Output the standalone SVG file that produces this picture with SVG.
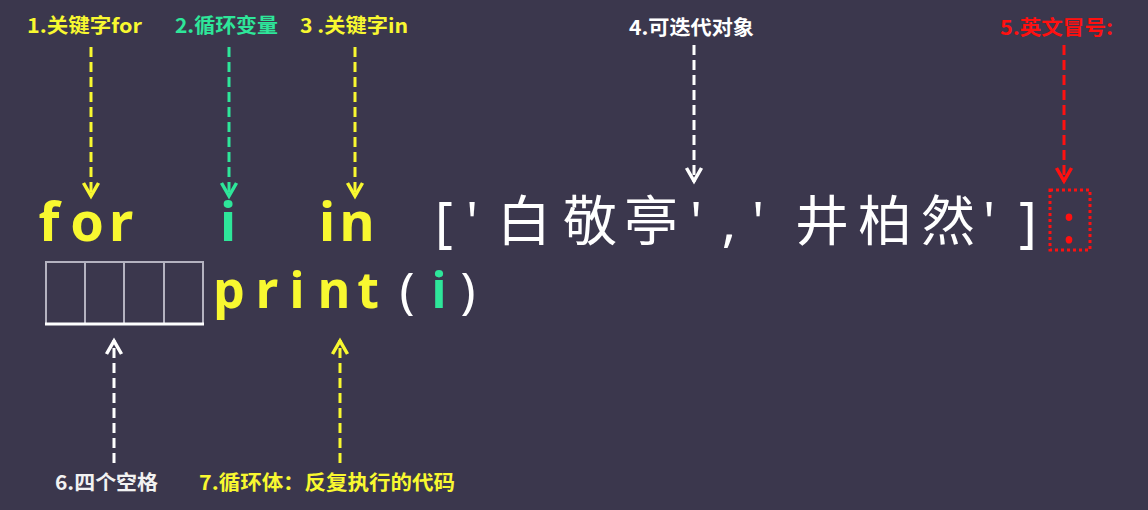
<svg xmlns="http://www.w3.org/2000/svg" width="1148" height="510" viewBox="0 0 1148 510">
<style>
.lbl{font-family:"Noto Sans CJK SC","Noto Sans",sans-serif;font-weight:700;font-size:20px}
.code{font-family:"Noto Sans","Noto Sans CJK SC",sans-serif;text-anchor:middle}
.yel{fill:#f8f830}.grn{fill:#2ee69a}.wht{fill:#ffffff}.red{fill:#ff1010}
.b{font-weight:700}
.conn line{fill:none;stroke-width:3;stroke-dasharray:10 5}
</style>
<defs>
<marker id="mY" markerUnits="userSpaceOnUse" orient="auto" refX="0" refY="0" markerWidth="20" markerHeight="20" overflow="visible"><path d="M-14,-7.5 L-1,0 L-14,7.5" fill="none" stroke="#f8f830" stroke-width="3.5"/></marker>
<marker id="mG" markerUnits="userSpaceOnUse" orient="auto" refX="0" refY="0" markerWidth="20" markerHeight="20" overflow="visible"><path d="M-14,-7.5 L-1,0 L-14,7.5" fill="none" stroke="#2ee69a" stroke-width="3.5"/></marker>
<marker id="mW" markerUnits="userSpaceOnUse" orient="auto" refX="0" refY="0" markerWidth="20" markerHeight="20" overflow="visible"><path d="M-14,-7.5 L-1,0 L-14,7.5" fill="none" stroke="#ffffff" stroke-width="3.5"/></marker>
<marker id="mR" markerUnits="userSpaceOnUse" orient="auto" refX="0" refY="0" markerWidth="20" markerHeight="20" overflow="visible"><path d="M-14,-7.5 L-1,0 L-14,7.5" fill="none" stroke="#ff1010" stroke-width="3.5"/></marker>
</defs>
<rect width="1148" height="510" fill="#3b374d"/>

<g id="label1"><text class="lbl yel" x="27" y="33" textLength="115" lengthAdjust="spacingAndGlyphs">1.关键字for</text></g>
<g id="label2"><text class="lbl grn" x="175" y="33" textLength="103" lengthAdjust="spacingAndGlyphs">2.循环变量</text></g>
<g id="label3"><text class="lbl yel" x="300" y="33" textLength="108" lengthAdjust="spacingAndGlyphs">3 .关键字in</text></g>
<g id="label4"><text class="lbl wht" x="629" y="35" textLength="125" lengthAdjust="spacingAndGlyphs">4.可迭代对象</text></g>
<g id="label5"><text class="lbl red" x="1000" y="35" textLength="113" lengthAdjust="spacingAndGlyphs">5.英文冒号:</text></g>
<g id="label6"><text class="lbl" fill="#f2f2f2" x="55" y="490" textLength="103" lengthAdjust="spacingAndGlyphs">6.四个空格</text></g>
<g id="label7"><text class="lbl yel" x="199" y="490" textLength="256" lengthAdjust="spacingAndGlyphs">7.循环体：反复执行的代码</text></g>

<g id="code-line1">
<text class="code" y="241" font-size="54"><tspan class="yel b" x="49 87 121">for</tspan><tspan class="grn b" x="175 228"> i</tspan><tspan class="yel b" x="280 327 357"> in</tspan><tspan class="wht" x="400 444 472 524 590 651 696 729 758 822 885 948 989 1028"> ['白敬亭','井柏然']</tspan><tspan class="red" x="1069" y="243">:</tspan></text>
<rect x="1050" y="190" width="40" height="60" fill="none" stroke="#ff1010" stroke-width="3" stroke-dasharray="3 3"/>
</g>

<g id="code-line2">
<rect x="46" y="262" width="157" height="62" fill="none" stroke="#b4b2c0" stroke-width="2"/>
<line x1="85" y1="262" x2="85" y2="324" stroke="#b4b2c0" stroke-width="2"/>
<line x1="124" y1="262" x2="124" y2="324" stroke="#b4b2c0" stroke-width="2"/>
<line x1="164" y1="262" x2="164" y2="324" stroke="#b4b2c0" stroke-width="2"/>
<line x1="45" y1="324" x2="204" y2="324" stroke="#ffffff" stroke-width="3"/>
<text class="code" y="308" font-size="50"><tspan class="yel b" x="229 267 297 334 368">print</tspan><tspan class="wht" x="407">(</tspan><tspan class="grn b" x="439">i</tspan><tspan class="wht" x="468">)</tspan></text>
</g>

<g id="connectors" class="conn">
<line x1="91" y1="47" x2="91" y2="197" stroke="#f8f830" marker-end="url(#mY)"/>
<line x1="229" y1="47" x2="229" y2="197" stroke="#2ee69a" marker-end="url(#mG)"/>
<line x1="355" y1="47" x2="355" y2="197" stroke="#f8f830" marker-end="url(#mY)"/>
<line x1="694" y1="45" x2="694" y2="182" stroke="#ffffff" marker-end="url(#mW)"/>
<line x1="1064" y1="45" x2="1064" y2="182" stroke="#ff1010" marker-end="url(#mR)"/>
<line x1="114" y1="463" x2="114" y2="340" stroke="#ffffff" marker-end="url(#mW)"/>
<line x1="340" y1="463" x2="340" y2="340" stroke="#f8f830" marker-end="url(#mY)"/>
</g>
</svg>
